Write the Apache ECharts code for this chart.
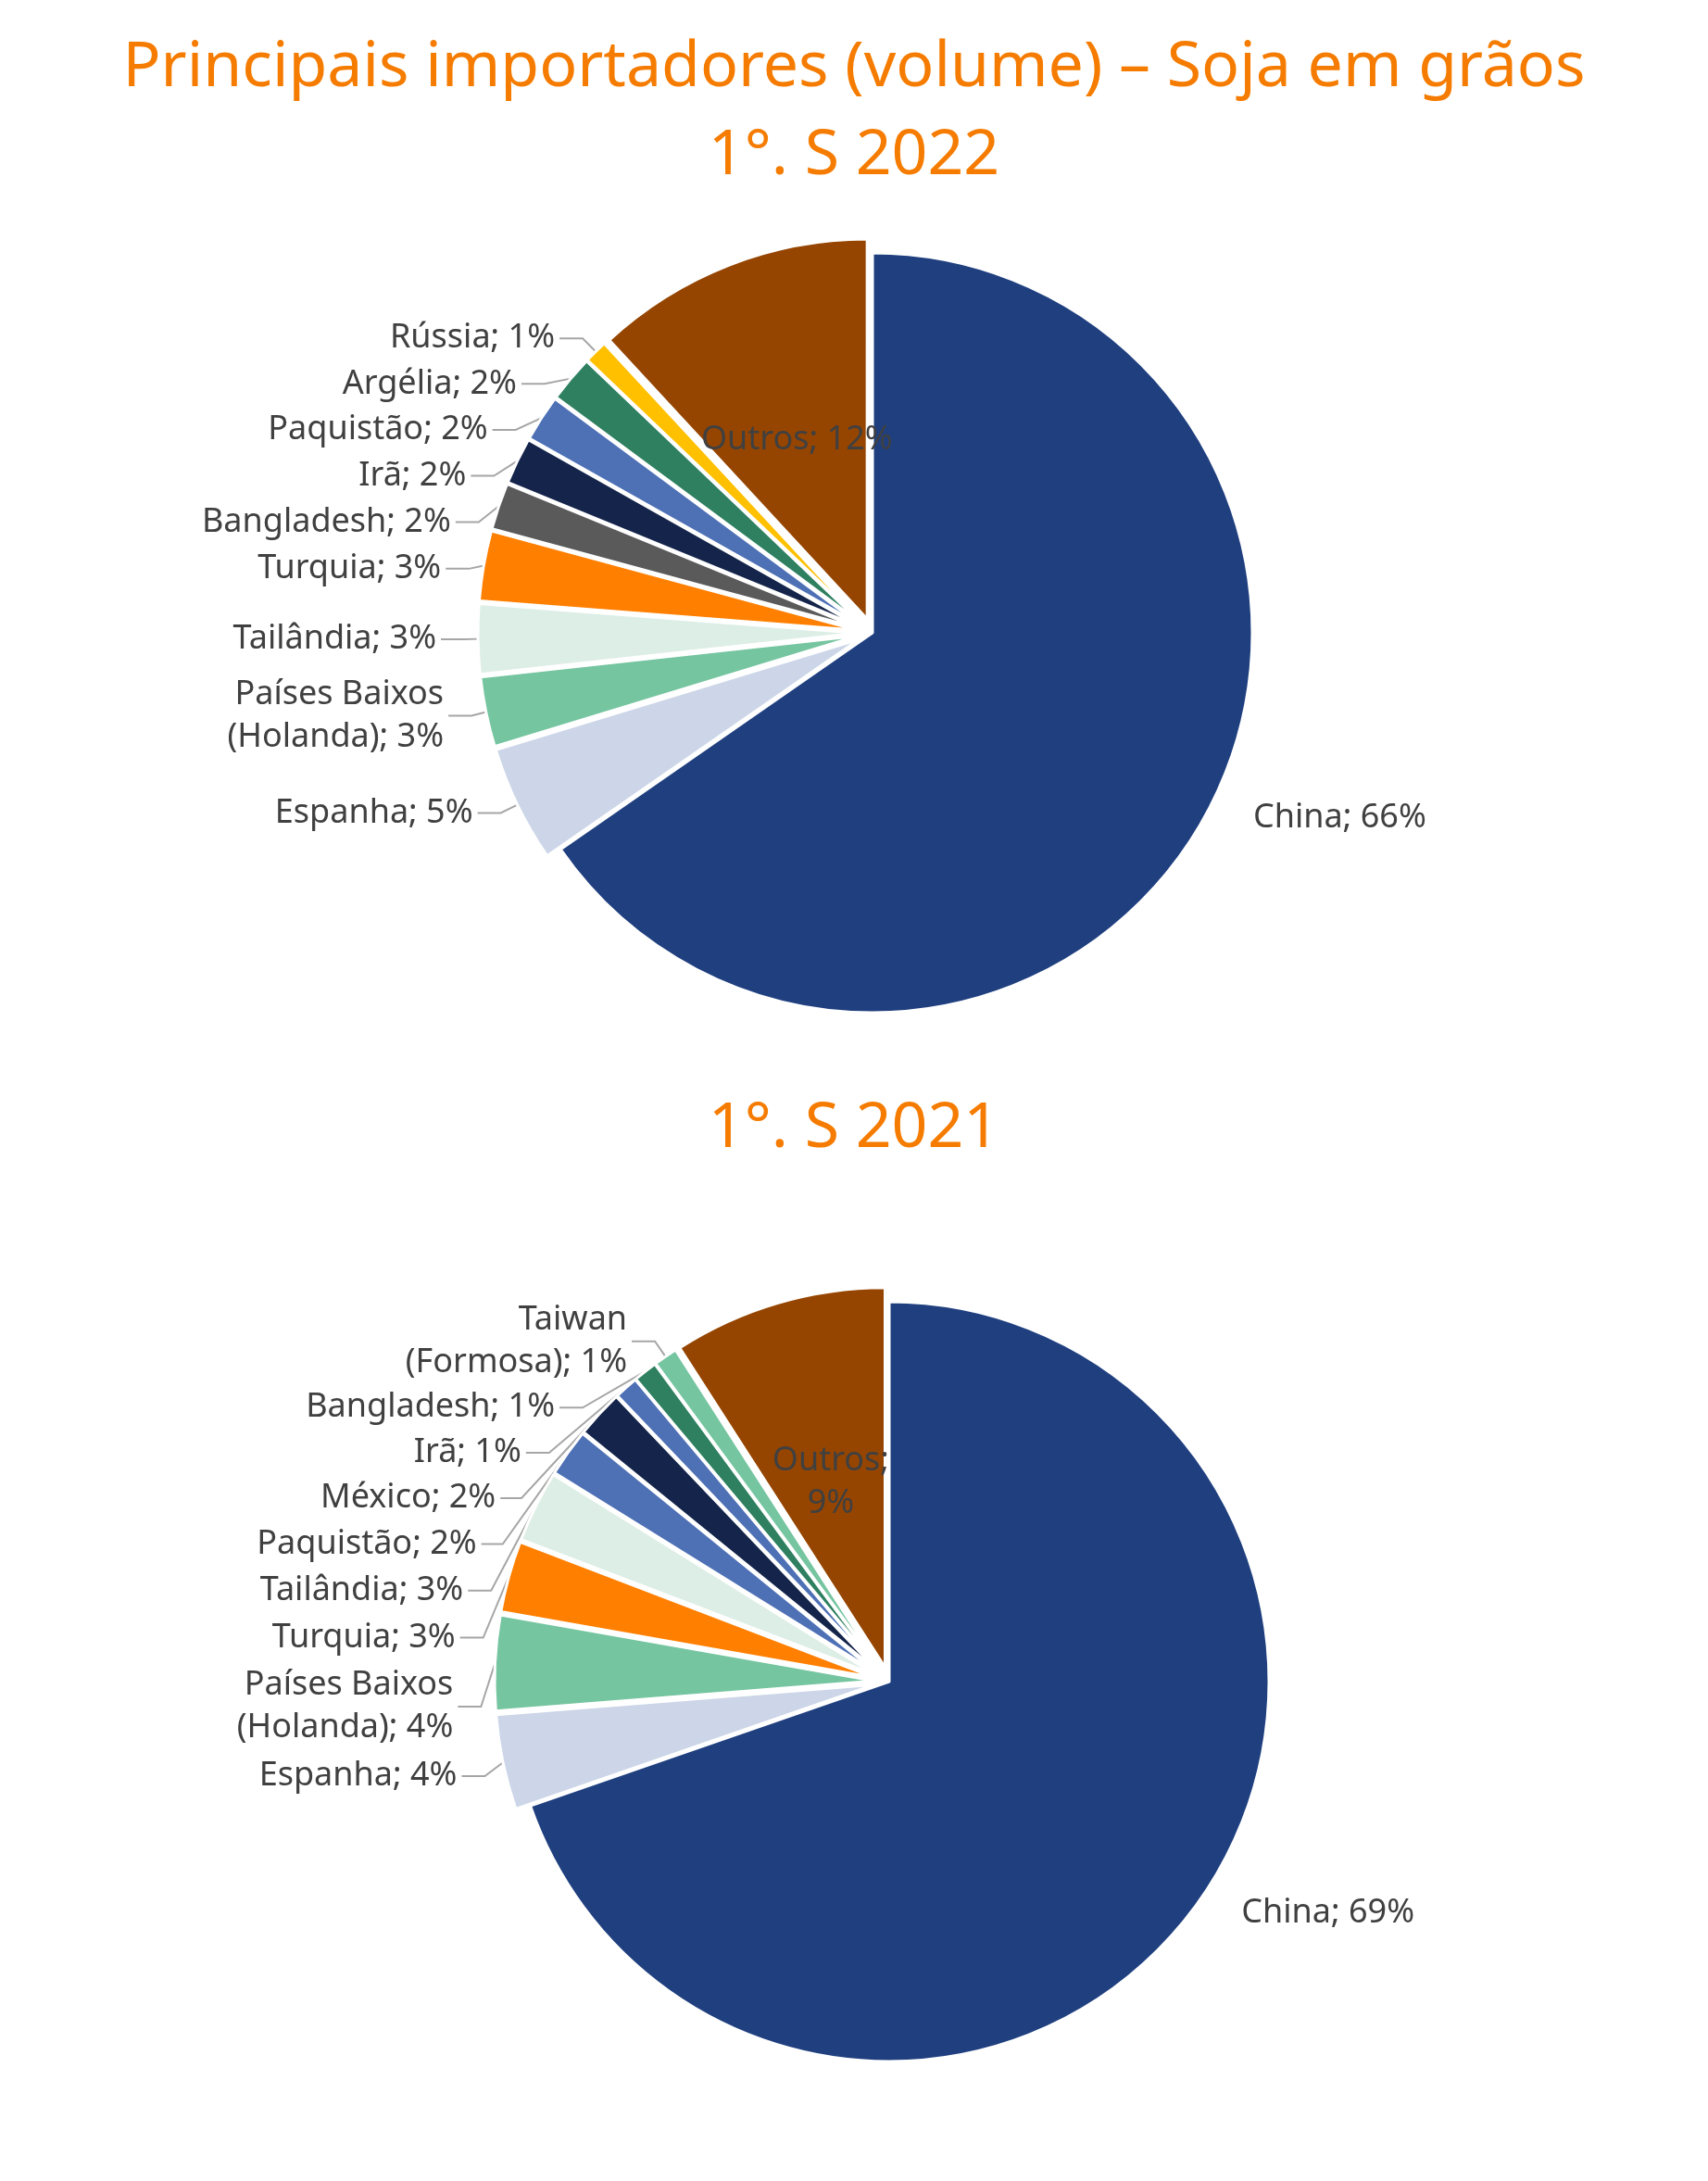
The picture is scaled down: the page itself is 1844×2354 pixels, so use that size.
<!DOCTYPE html>
<html lang="pt">
<head>
<meta charset="UTF-8">
<title>Principais importadores - Soja em grãos</title>
<script src="https://cdn.jsdelivr.net/npm/echarts@6/dist/echarts.min.js"></script>
<style>html,body{margin:0;background:#fff}</style>
</head>
<body>
<div id="main" style="width:1844px;height:2354px;"></div>
<script>
// 1º semestre 2022
var nomes2022 = ['China', 'Espanha', 'Países Baixos\n(Holanda)', 'Tailândia', 'Turquia', 'Bangladesh', 'Irã', 'Paquistão', 'Argélia', 'Rússia', 'Outros'];
var valores2022 = [66, 5, 3, 3, 3, 2, 2, 2, 2, 1, 12];
var cores2022 = ['#1F3F7F', '#CCD6E8', '#75C5A0', '#DDEEE6', '#FF7F00', '#5A5A5A', '#14244A', '#4E70B5', '#2E8060', '#FFC000', '#954500'];

// 1º semestre 2021
var nomes2021 = ['China', 'Espanha', 'Países Baixos\n(Holanda)', 'Turquia', 'Tailândia', 'Paquistão', 'México', 'Irã', 'Bangladesh', 'Taiwan\n(Formosa)', 'Outros'];
var valores2021 = [69, 4, 4, 3, 3, 2, 2, 1, 1, 1, 9];
var cores2021 = ['#1F3F7F', '#CCD6E8', '#75C5A0', '#FF7F00', '#DDEEE6', '#4E70B5', '#14244A', '#4E70B5', '#2E8060', '#75C5A0', '#954500'];

var laranja = '#F57C00';
var fonte = 'Noto Sans';

function montaDados(nomes, valores, cores) {
    return nomes.map(function (n, i) {
        var item = { name: n, value: valores[i], itemStyle: { color: cores[i] }, selected: i > 0 };
        if (n === 'Outros') {
            item.label = { position: 'inside', formatter: valores[i] < 10 ? '{b};\n{c}%' : '{b}; {c}%' };
        }
        if (i === 0) {
            item.labelLine = { show: false };
        }
        return item;
    });
}

function serie(center, dados) {
    return {
        type: 'pie',
        center: center,
        radius: 410,
        startAngle: 90,
        clockwise: true,
        selectedMode: 'multiple',
        selectedOffset: 16,
        avoidLabelOverlap: true,
        itemStyle: { borderColor: '#fff', borderWidth: 3 },
        label: {
            formatter: '{b}; {c}%',
            fontFamily: fonte,
            fontSize: 36,
            color: '#404040',
            lineHeight: 46
        },
        labelLine: { length: 20, length2: 25, lineStyle: { color: '#A6A6A6', width: 2 } },
        emphasis: { disabled: true },
        data: dados
    };
}

var myChart = echarts.init(document.getElementById('main'));
var option = {
    animation: false,
    title: [
        { text: 'Principais importadores (volume) – Soja em grãos', left: 'center', top: 35,
          textStyle: { color: laranja, fontSize: 68, fontWeight: 'normal', fontFamily: fonte } },
        { text: '1°. S 2022', left: 'center', top: 130,
          textStyle: { color: laranja, fontSize: 68, fontWeight: 'normal', fontFamily: fonte } },
        { text: '1°. S 2021', left: 'center', top: 1180,
          textStyle: { color: laranja, fontSize: 68, fontWeight: 'normal', fontFamily: fonte } }
    ],
    series: [
        serie([942, 683], montaDados(nomes2022, valores2022, cores2022)),
        serie([960, 1815], montaDados(nomes2021, valores2021, cores2021))
    ]
};
myChart.setOption(option);
</script>
</body>
</html>
